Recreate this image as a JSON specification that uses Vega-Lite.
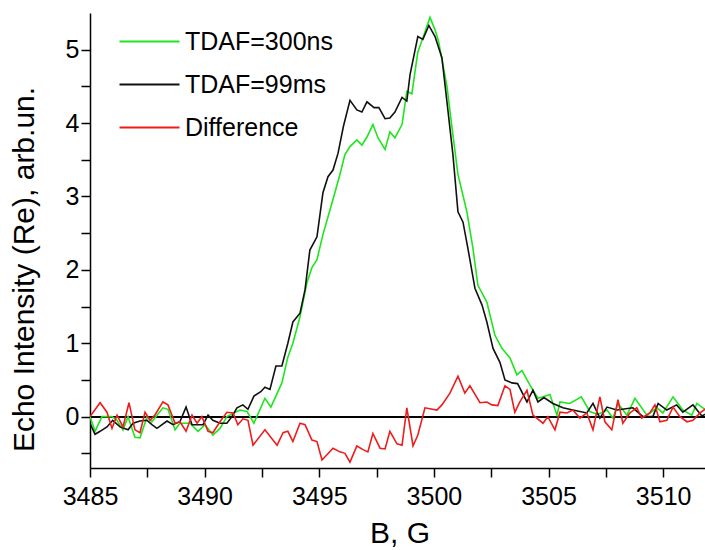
{
  "$schema": "https://vega.github.io/schema/vega-lite/v6.json",
  "width": 619,
  "height": 455,
  "autosize": "none",
  "padding": {"left": 90, "top": 13, "right": 0, "bottom": 82},
  "background": "white",
  "config": {
    "view": {"stroke": null},
    "font": "Liberation Sans",
    "axis": {"grid": false, "domainColor": "black", "domainWidth": 1.5, "tickColor": "black", "tickWidth": 1.5, "labelColor": "black", "titleColor": "black", "labelFont": "Liberation Sans", "titleFont": "Liberation Sans", "labelFontSize": 25, "titleFontSize": 30, "titleFontWeight": "normal"}
  },
  "data": {"values": [
    {"B":3485.00,"v":0.00,"s":"TDAF=300ns"},{"B":3485.22,"v":-0.20,"s":"TDAF=300ns"},{"B":3485.52,"v":0.00,"s":"TDAF=300ns"},{"B":3485.96,"v":0.00,"s":"TDAF=300ns"},{"B":3486.18,"v":-0.05,"s":"TDAF=300ns"},{"B":3486.44,"v":-0.18,"s":"TDAF=300ns"},{"B":3486.66,"v":0.00,"s":"TDAF=300ns"},{"B":3486.96,"v":-0.28,"s":"TDAF=300ns"},{"B":3487.18,"v":-0.29,"s":"TDAF=300ns"},{"B":3487.49,"v":0.00,"s":"TDAF=300ns"},{"B":3487.70,"v":-0.07,"s":"TDAF=300ns"},{"B":3488.18,"v":0.12,"s":"TDAF=300ns"},{"B":3488.40,"v":0.10,"s":"TDAF=300ns"},{"B":3488.71,"v":-0.18,"s":"TDAF=300ns"},{"B":3488.92,"v":-0.09,"s":"TDAF=300ns"},{"B":3489.36,"v":-0.09,"s":"TDAF=300ns"},{"B":3489.71,"v":-0.20,"s":"TDAF=300ns"},{"B":3490.02,"v":-0.11,"s":"TDAF=300ns"},{"B":3490.36,"v":-0.25,"s":"TDAF=300ns"},{"B":3490.67,"v":-0.16,"s":"TDAF=300ns"},{"B":3490.97,"v":0.00,"s":"TDAF=300ns"},{"B":3491.54,"v":0.09,"s":"TDAF=300ns"},{"B":3491.85,"v":0.07,"s":"TDAF=300ns"},{"B":3492.15,"v":-0.09,"s":"TDAF=300ns"},{"B":3492.63,"v":0.25,"s":"TDAF=300ns"},{"B":3492.89,"v":0.13,"s":"TDAF=300ns"},{"B":3493.37,"v":0.46,"s":"TDAF=300ns"},{"B":3493.63,"v":0.81,"s":"TDAF=300ns"},{"B":3493.85,"v":1.00,"s":"TDAF=300ns"},{"B":3494.16,"v":1.36,"s":"TDAF=300ns"},{"B":3494.46,"v":1.82,"s":"TDAF=300ns"},{"B":3494.68,"v":2.03,"s":"TDAF=300ns"},{"B":3494.90,"v":2.14,"s":"TDAF=300ns"},{"B":3495.16,"v":2.48,"s":"TDAF=300ns"},{"B":3495.38,"v":2.72,"s":"TDAF=300ns"},{"B":3495.68,"v":3.05,"s":"TDAF=300ns"},{"B":3495.90,"v":3.30,"s":"TDAF=300ns"},{"B":3496.12,"v":3.57,"s":"TDAF=300ns"},{"B":3496.34,"v":3.68,"s":"TDAF=300ns"},{"B":3496.64,"v":3.77,"s":"TDAF=300ns"},{"B":3496.86,"v":3.70,"s":"TDAF=300ns"},{"B":3497.08,"v":3.81,"s":"TDAF=300ns"},{"B":3497.34,"v":3.98,"s":"TDAF=300ns"},{"B":3497.56,"v":3.80,"s":"TDAF=300ns"},{"B":3497.87,"v":3.64,"s":"TDAF=300ns"},{"B":3498.08,"v":3.88,"s":"TDAF=300ns"},{"B":3498.30,"v":3.80,"s":"TDAF=300ns"},{"B":3498.61,"v":3.98,"s":"TDAF=300ns"},{"B":3498.82,"v":4.43,"s":"TDAF=300ns"},{"B":3499.04,"v":4.40,"s":"TDAF=300ns"},{"B":3499.30,"v":4.97,"s":"TDAF=300ns"},{"B":3499.52,"v":5.16,"s":"TDAF=300ns"},{"B":3499.83,"v":5.44,"s":"TDAF=300ns"},{"B":3500.05,"v":5.27,"s":"TDAF=300ns"},{"B":3500.20,"v":5.12,"s":"TDAF=300ns"},{"B":3500.57,"v":4.50,"s":"TDAF=300ns"},{"B":3500.83,"v":3.84,"s":"TDAF=300ns"},{"B":3501.05,"v":3.30,"s":"TDAF=300ns"},{"B":3501.44,"v":2.79,"s":"TDAF=300ns"},{"B":3501.70,"v":2.30,"s":"TDAF=300ns"},{"B":3501.92,"v":1.79,"s":"TDAF=300ns"},{"B":3502.31,"v":1.56,"s":"TDAF=300ns"},{"B":3502.66,"v":1.11,"s":"TDAF=300ns"},{"B":3502.97,"v":0.93,"s":"TDAF=300ns"},{"B":3503.32,"v":0.80,"s":"TDAF=300ns"},{"B":3503.62,"v":0.57,"s":"TDAF=300ns"},{"B":3503.84,"v":0.63,"s":"TDAF=300ns"},{"B":3504.19,"v":0.43,"s":"TDAF=300ns"},{"B":3504.54,"v":0.25,"s":"TDAF=300ns"},{"B":3504.76,"v":0.27,"s":"TDAF=300ns"},{"B":3505.06,"v":0.30,"s":"TDAF=300ns"},{"B":3505.37,"v":0.02,"s":"TDAF=300ns"},{"B":3505.50,"v":0.20,"s":"TDAF=300ns"},{"B":3505.93,"v":0.18,"s":"TDAF=300ns"},{"B":3506.43,"v":0.27,"s":"TDAF=300ns"},{"B":3506.80,"v":0.07,"s":"TDAF=300ns"},{"B":3507.15,"v":0.03,"s":"TDAF=300ns"},{"B":3507.55,"v":0.09,"s":"TDAF=300ns"},{"B":3507.81,"v":-0.02,"s":"TDAF=300ns"},{"B":3508.03,"v":0.18,"s":"TDAF=300ns"},{"B":3508.42,"v":0.02,"s":"TDAF=300ns"},{"B":3508.77,"v":0.25,"s":"TDAF=300ns"},{"B":3509.29,"v":0.02,"s":"TDAF=300ns"},{"B":3509.73,"v":0.12,"s":"TDAF=300ns"},{"B":3509.99,"v":0.05,"s":"TDAF=300ns"},{"B":3510.43,"v":0.27,"s":"TDAF=300ns"},{"B":3510.86,"v":0.09,"s":"TDAF=300ns"},{"B":3511.25,"v":0.02,"s":"TDAF=300ns"},{"B":3511.47,"v":0.18,"s":"TDAF=300ns"},{"B":3511.82,"v":0.10,"s":"TDAF=300ns"},{"B":3512.00,"v":0.05,"s":"TDAF=300ns"},

    {"B":3485.00,"v":-0.09,"s":"TDAF=99ms"},{"B":3485.22,"v":-0.24,"s":"TDAF=99ms"},{"B":3485.44,"v":-0.20,"s":"TDAF=99ms"},{"B":3485.74,"v":-0.14,"s":"TDAF=99ms"},{"B":3485.99,"v":-0.05,"s":"TDAF=99ms"},{"B":3486.31,"v":-0.14,"s":"TDAF=99ms"},{"B":3486.66,"v":-0.18,"s":"TDAF=99ms"},{"B":3486.88,"v":-0.09,"s":"TDAF=99ms"},{"B":3487.18,"v":-0.06,"s":"TDAF=99ms"},{"B":3487.49,"v":-0.05,"s":"TDAF=99ms"},{"B":3487.70,"v":-0.11,"s":"TDAF=99ms"},{"B":3487.92,"v":-0.16,"s":"TDAF=99ms"},{"B":3488.36,"v":-0.06,"s":"TDAF=99ms"},{"B":3488.62,"v":-0.11,"s":"TDAF=99ms"},{"B":3488.92,"v":-0.07,"s":"TDAF=99ms"},{"B":3489.19,"v":0.13,"s":"TDAF=99ms"},{"B":3489.45,"v":-0.11,"s":"TDAF=99ms"},{"B":3489.71,"v":-0.11,"s":"TDAF=99ms"},{"B":3489.93,"v":-0.11,"s":"TDAF=99ms"},{"B":3490.15,"v":0.02,"s":"TDAF=99ms"},{"B":3490.36,"v":-0.05,"s":"TDAF=99ms"},{"B":3490.67,"v":-0.09,"s":"TDAF=99ms"},{"B":3490.97,"v":-0.09,"s":"TDAF=99ms"},{"B":3491.19,"v":0.00,"s":"TDAF=99ms"},{"B":3491.41,"v":0.12,"s":"TDAF=99ms"},{"B":3491.67,"v":0.16,"s":"TDAF=99ms"},{"B":3491.89,"v":0.10,"s":"TDAF=99ms"},{"B":3492.15,"v":0.28,"s":"TDAF=99ms"},{"B":3492.45,"v":0.34,"s":"TDAF=99ms"},{"B":3492.63,"v":0.40,"s":"TDAF=99ms"},{"B":3492.85,"v":0.37,"s":"TDAF=99ms"},{"B":3493.11,"v":0.69,"s":"TDAF=99ms"},{"B":3493.37,"v":0.69,"s":"TDAF=99ms"},{"B":3493.63,"v":1.00,"s":"TDAF=99ms"},{"B":3493.85,"v":1.29,"s":"TDAF=99ms"},{"B":3494.16,"v":1.41,"s":"TDAF=99ms"},{"B":3494.38,"v":1.73,"s":"TDAF=99ms"},{"B":3494.59,"v":2.27,"s":"TDAF=99ms"},{"B":3494.90,"v":2.45,"s":"TDAF=99ms"},{"B":3495.16,"v":3.05,"s":"TDAF=99ms"},{"B":3495.38,"v":3.27,"s":"TDAF=99ms"},{"B":3495.60,"v":3.36,"s":"TDAF=99ms"},{"B":3495.82,"v":3.59,"s":"TDAF=99ms"},{"B":3496.05,"v":3.95,"s":"TDAF=99ms"},{"B":3496.34,"v":4.31,"s":"TDAF=99ms"},{"B":3496.64,"v":4.18,"s":"TDAF=99ms"},{"B":3496.86,"v":4.15,"s":"TDAF=99ms"},{"B":3497.08,"v":4.29,"s":"TDAF=99ms"},{"B":3497.39,"v":4.21,"s":"TDAF=99ms"},{"B":3497.60,"v":4.21,"s":"TDAF=99ms"},{"B":3497.87,"v":4.06,"s":"TDAF=99ms"},{"B":3498.08,"v":4.07,"s":"TDAF=99ms"},{"B":3498.30,"v":4.15,"s":"TDAF=99ms"},{"B":3498.61,"v":4.35,"s":"TDAF=99ms"},{"B":3498.82,"v":4.30,"s":"TDAF=99ms"},{"B":3498.96,"v":4.66,"s":"TDAF=99ms"},{"B":3499.30,"v":5.18,"s":"TDAF=99ms"},{"B":3499.52,"v":5.14,"s":"TDAF=99ms"},{"B":3499.78,"v":5.33,"s":"TDAF=99ms"},{"B":3500.05,"v":5.18,"s":"TDAF=99ms"},{"B":3500.35,"v":4.89,"s":"TDAF=99ms"},{"B":3500.57,"v":4.29,"s":"TDAF=99ms"},{"B":3500.83,"v":3.57,"s":"TDAF=99ms"},{"B":3501.05,"v":2.79,"s":"TDAF=99ms"},{"B":3501.27,"v":2.65,"s":"TDAF=99ms"},{"B":3501.48,"v":2.30,"s":"TDAF=99ms"},{"B":3501.79,"v":1.75,"s":"TDAF=99ms"},{"B":3502.10,"v":1.52,"s":"TDAF=99ms"},{"B":3502.31,"v":1.29,"s":"TDAF=99ms"},{"B":3502.58,"v":0.93,"s":"TDAF=99ms"},{"B":3502.88,"v":0.74,"s":"TDAF=99ms"},{"B":3503.10,"v":0.50,"s":"TDAF=99ms"},{"B":3503.40,"v":0.46,"s":"TDAF=99ms"},{"B":3503.65,"v":0.45,"s":"TDAF=99ms"},{"B":3504.06,"v":0.20,"s":"TDAF=99ms"},{"B":3504.32,"v":0.36,"s":"TDAF=99ms"},{"B":3504.54,"v":0.20,"s":"TDAF=99ms"},{"B":3504.80,"v":0.26,"s":"TDAF=99ms"},{"B":3505.19,"v":0.18,"s":"TDAF=99ms"},{"B":3505.63,"v":0.12,"s":"TDAF=99ms"},{"B":3506.06,"v":0.09,"s":"TDAF=99ms"},{"B":3506.67,"v":0.05,"s":"TDAF=99ms"},{"B":3506.94,"v":0.18,"s":"TDAF=99ms"},{"B":3507.24,"v":-0.02,"s":"TDAF=99ms"},{"B":3507.55,"v":0.13,"s":"TDAF=99ms"},{"B":3507.98,"v":0.09,"s":"TDAF=99ms"},{"B":3508.68,"v":0.12,"s":"TDAF=99ms"},{"B":3509.12,"v":0.00,"s":"TDAF=99ms"},{"B":3509.55,"v":0.00,"s":"TDAF=99ms"},{"B":3509.78,"v":0.18,"s":"TDAF=99ms"},{"B":3510.16,"v":0.09,"s":"TDAF=99ms"},{"B":3510.59,"v":0.16,"s":"TDAF=99ms"},{"B":3510.86,"v":0.06,"s":"TDAF=99ms"},{"B":3511.30,"v":0.16,"s":"TDAF=99ms"},{"B":3511.69,"v":0.01,"s":"TDAF=99ms"},{"B":3512.00,"v":0.06,"s":"TDAF=99ms"},

    {"B":3485.00,"v":0.00,"s":"Difference"},{"B":3485.44,"v":0.19,"s":"Difference"},{"B":3485.74,"v":0.06,"s":"Difference"},{"B":3485.96,"v":-0.16,"s":"Difference"},{"B":3486.18,"v":0.02,"s":"Difference"},{"B":3486.44,"v":-0.14,"s":"Difference"},{"B":3486.70,"v":0.19,"s":"Difference"},{"B":3486.96,"v":-0.18,"s":"Difference"},{"B":3487.18,"v":-0.22,"s":"Difference"},{"B":3487.40,"v":0.06,"s":"Difference"},{"B":3487.62,"v":-0.05,"s":"Difference"},{"B":3487.83,"v":0.02,"s":"Difference"},{"B":3488.18,"v":0.20,"s":"Difference"},{"B":3488.40,"v":0.16,"s":"Difference"},{"B":3488.71,"v":-0.09,"s":"Difference"},{"B":3488.92,"v":-0.07,"s":"Difference"},{"B":3489.19,"v":-0.20,"s":"Difference"},{"B":3489.45,"v":0.02,"s":"Difference"},{"B":3489.67,"v":-0.09,"s":"Difference"},{"B":3489.88,"v":0.00,"s":"Difference"},{"B":3490.15,"v":-0.20,"s":"Difference"},{"B":3490.36,"v":-0.22,"s":"Difference"},{"B":3490.67,"v":-0.07,"s":"Difference"},{"B":3490.97,"v":0.06,"s":"Difference"},{"B":3491.24,"v":0.05,"s":"Difference"},{"B":3491.45,"v":-0.11,"s":"Difference"},{"B":3491.67,"v":-0.03,"s":"Difference"},{"B":3491.89,"v":-0.05,"s":"Difference"},{"B":3492.11,"v":-0.39,"s":"Difference"},{"B":3492.63,"v":-0.18,"s":"Difference"},{"B":3493.16,"v":-0.39,"s":"Difference"},{"B":3493.42,"v":-0.22,"s":"Difference"},{"B":3493.63,"v":-0.20,"s":"Difference"},{"B":3493.85,"v":-0.34,"s":"Difference"},{"B":3494.16,"v":-0.09,"s":"Difference"},{"B":3494.38,"v":-0.11,"s":"Difference"},{"B":3494.68,"v":-0.32,"s":"Difference"},{"B":3494.90,"v":-0.34,"s":"Difference"},{"B":3495.12,"v":-0.59,"s":"Difference"},{"B":3495.60,"v":-0.43,"s":"Difference"},{"B":3495.90,"v":-0.48,"s":"Difference"},{"B":3496.12,"v":-0.50,"s":"Difference"},{"B":3496.34,"v":-0.62,"s":"Difference"},{"B":3496.64,"v":-0.40,"s":"Difference"},{"B":3496.91,"v":-0.45,"s":"Difference"},{"B":3497.12,"v":-0.48,"s":"Difference"},{"B":3497.34,"v":-0.23,"s":"Difference"},{"B":3497.65,"v":-0.43,"s":"Difference"},{"B":3497.87,"v":-0.44,"s":"Difference"},{"B":3498.08,"v":-0.20,"s":"Difference"},{"B":3498.39,"v":-0.37,"s":"Difference"},{"B":3498.61,"v":-0.39,"s":"Difference"},{"B":3498.82,"v":0.12,"s":"Difference"},{"B":3499.09,"v":-0.40,"s":"Difference"},{"B":3499.30,"v":-0.25,"s":"Difference"},{"B":3499.61,"v":0.12,"s":"Difference"},{"B":3500.13,"v":0.09,"s":"Difference"},{"B":3500.35,"v":0.16,"s":"Difference"},{"B":3500.70,"v":0.32,"s":"Difference"},{"B":3501.05,"v":0.55,"s":"Difference"},{"B":3501.35,"v":0.32,"s":"Difference"},{"B":3501.57,"v":0.42,"s":"Difference"},{"B":3502.01,"v":0.19,"s":"Difference"},{"B":3502.31,"v":0.20,"s":"Difference"},{"B":3502.53,"v":0.16,"s":"Difference"},{"B":3502.79,"v":0.15,"s":"Difference"},{"B":3503.10,"v":0.42,"s":"Difference"},{"B":3503.32,"v":0.37,"s":"Difference"},{"B":3503.53,"v":0.06,"s":"Difference"},{"B":3503.75,"v":0.20,"s":"Difference"},{"B":3504.06,"v":0.36,"s":"Difference"},{"B":3504.32,"v":0.02,"s":"Difference"},{"B":3504.76,"v":-0.09,"s":"Difference"},{"B":3504.97,"v":0.00,"s":"Difference"},{"B":3505.28,"v":-0.18,"s":"Difference"},{"B":3505.50,"v":0.06,"s":"Difference"},{"B":3505.80,"v":0.05,"s":"Difference"},{"B":3506.06,"v":0.09,"s":"Difference"},{"B":3506.37,"v":-0.02,"s":"Difference"},{"B":3506.67,"v":0.05,"s":"Difference"},{"B":3506.94,"v":-0.18,"s":"Difference"},{"B":3507.24,"v":0.27,"s":"Difference"},{"B":3507.46,"v":-0.07,"s":"Difference"},{"B":3507.76,"v":-0.18,"s":"Difference"},{"B":3508.03,"v":0.23,"s":"Difference"},{"B":3508.24,"v":-0.09,"s":"Difference"},{"B":3508.55,"v":0.05,"s":"Difference"},{"B":3508.85,"v":0.12,"s":"Difference"},{"B":3509.07,"v":-0.02,"s":"Difference"},{"B":3509.42,"v":0.05,"s":"Difference"},{"B":3509.64,"v":0.16,"s":"Difference"},{"B":3509.86,"v":-0.07,"s":"Difference"},{"B":3510.16,"v":-0.05,"s":"Difference"},{"B":3510.43,"v":0.13,"s":"Difference"},{"B":3510.73,"v":0.00,"s":"Difference"},{"B":3511.04,"v":-0.07,"s":"Difference"},{"B":3511.30,"v":-0.05,"s":"Difference"},{"B":3511.61,"v":0.05,"s":"Difference"},{"B":3511.82,"v":0.10,"s":"Difference"},{"B":3512.00,"v":0.04,"s":"Difference"}
  ]},
  "layer": [
    {
      "mark": {"type": "rule", "color": "black", "strokeWidth": 1.5},
      "encoding": {"y": {"datum": 0, "type": "quantitative"}}
    },
    {
      "mark": {"type": "line", "strokeWidth": 1.6, "clip": true},
      "encoding": {
        "x": {"field": "B", "type": "quantitative", "scale": {"domain": [3485, 3512], "nice": false, "zero": false},
          "axis": {"title": "B, G", "values": [3485, 3487.5, 3490, 3492.5, 3495, 3497.5, 3500, 3502.5, 3505, 3507.5, 3510], "format": "d", "labelExpr": "datum.value % 5 === 0 ? datum.label : ''", "tickSize": 9, "labelPadding": 7, "titlePadding": 9, "labelFlush": false, "labelOverlap": false,
            "encode": {"ticks": {"update": {"y2": {"signal": "datum.value % 5 === 0 ? 9 : 5"}}}}}},
        "y": {"field": "v", "type": "quantitative", "scale": {"domain": [-0.7, 5.5], "nice": false, "zero": false},
          "axis": {"title": "Echo Intensity (Re), arb.un.", "values": [-0.5, 0, 0.5, 1, 1.5, 2, 2.5, 3, 3.5, 4, 4.5, 5], "labelExpr": "datum.value % 1 === 0 ? format(datum.value, 'd') : ''", "tickSize": 9, "labelPadding": 2, "titlePadding": 26, "titleY": 256, "labelFlush": false, "labelOverlap": false,
            "encode": {"ticks": {"update": {"x2": {"signal": "datum.value % 1 === 0 ? -9 : -5"}}}}}},
        "color": {"field": "s", "type": "nominal",
          "scale": {"domain": ["TDAF=300ns", "TDAF=99ms", "Difference"], "range": ["#1ee61e", "#111111", "#ee1c1c"]},
          "legend": {"title": null, "orient": "none", "legendX": 27, "legendY": 16, "symbolType": "M-1,0H5", "symbolSize": 400, "symbolStrokeWidth": 2, "symbolFillColor": "transparent", "labelOffset": 43, "labelFontSize": 25, "labelFont": "Liberation Sans", "labelColor": "black", "rowPadding": 17, "padding": 0}},
        "order": {"field": "B", "type": "quantitative"}
      }
    }
  ]
}
